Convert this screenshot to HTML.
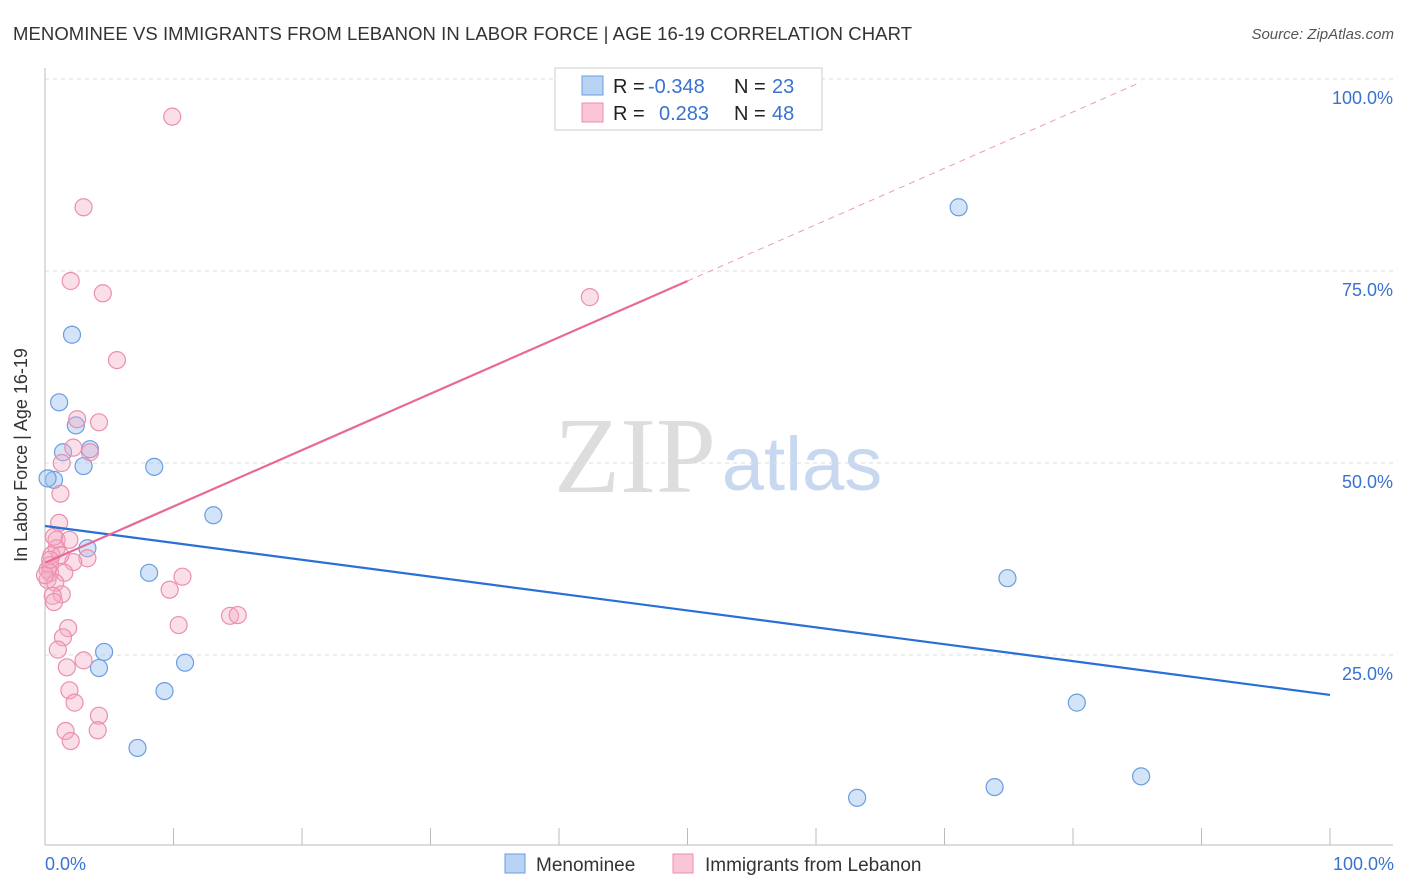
<!DOCTYPE html>
<html><head><meta charset="utf-8"><style>
body{margin:0;background:#fff;font-family:"Liberation Sans",sans-serif;}
svg{display:block}
</style></head><body>
<svg id="chart" width="1406" height="892">
<text x="13" y="40" font-size="18.5" fill="#333" textLength="899">MENOMINEE VS IMMIGRANTS FROM LEBANON IN LABOR FORCE | AGE 16-19 CORRELATION CHART</text>
<text x="1394" y="39" font-size="15" fill="#555" font-style="italic" text-anchor="end">Source: ZipAtlas.com</text>
<text x="635" y="492" font-size="108" fill="#ddd" font-family="Liberation Serif,serif" text-anchor="middle">ZIP</text>
<text x="802" y="490" font-size="76" fill="#c8d8f0" text-anchor="middle">atlas</text>
<g id="grid"></g>
<g id="axes"></g>
<g id="pts"></g>
<g id="lines"></g>
<text x="27" y="455" font-size="18" fill="#333" text-anchor="middle" transform="rotate(-90 27 455)">In Labor Force | Age 16-19</text>
<text x="45" y="870" font-size="18" fill="#3a72d0">0.0%</text>
<text x="1394" y="870" font-size="18" fill="#3a72d0" text-anchor="end">100.0%</text>
<g>
<rect x="555" y="68" width="267" height="62" fill="#fff" stroke="#ccc"/>
<rect x="582" y="76" width="21" height="19" fill="#b9d3f5" stroke="#6a9ee0"/>
<rect x="582" y="103" width="21" height="19" fill="#fac6d6" stroke="#eb8fae"/>
<text x="613" y="93" font-size="20" fill="#222">R = <tspan fill="#3a72d0" x="648">-0.348</tspan></text>
<text x="734" y="93" font-size="20" fill="#222">N = <tspan fill="#3a72d0" x="772">23</tspan></text>
<text x="613" y="120" font-size="20" fill="#222">R = <tspan fill="#3a72d0" x="659">0.283</tspan></text>
<text x="734" y="120" font-size="20" fill="#222">N = <tspan fill="#3a72d0" x="772">48</tspan></text>
</g>
<g>
<rect x="505" y="854" width="20" height="19" fill="#b9d3f5" stroke="#6a9ee0"/>
<text x="536" y="871" font-size="19" fill="#333">Menominee</text>
<rect x="673" y="854" width="20" height="19" fill="#fac6d6" stroke="#eb8fae"/>
<text x="705" y="871" font-size="19" fill="#333">Immigrants from Lebanon</text>
</g>
</svg>
<script>
const yTicks=[25,50,75,100];
const yTickLabels=["25.0%","50.0%","75.0%","100.0%"];
const xTicks=[0,10,20,30,40,50,60,70,80,90,100];
const blueX=[2.1,1.1,2.4,1.4,3.5,3.0,8.5,0.7,13.1,3.3,8.1,4.6,4.2,10.9,9.3,7.2,71.1,74.9,80.3,85.3,63.2,73.9,0.2];
const blueY=[66.7,57.9,54.9,51.4,51.8,49.6,49.5,47.8,43.2,38.9,35.7,25.4,23.3,24.0,20.3,12.9,83.3,35.0,18.8,9.2,6.4,7.8,48.0];
const pinkX=[9.9,3.0,2.0,4.5,42.4,5.6,2.5,4.2,2.2,3.5,1.3,1.2,1.1,0.9,1.9,3.3,2.2,0.9,0.5,0.4,0.2,0.4,1.5,0.2,0.8,1.3,0.6,0.7,10.7,9.7,10.4,14.4,15.0,1.8,1.4,1.0,3.0,1.7,1.9,2.3,1.6,4.2,4.1,2.0,1.2,0.7,0,0.4];
const pinkY=[95.1,83.3,73.7,72.1,71.6,63.4,55.7,55.3,52.0,51.4,50.0,46.0,42.2,40.0,40.0,37.6,37.1,38.9,38.0,36.7,36.1,35.7,35.7,34.8,34.4,32.9,32.7,31.9,35.2,33.5,28.9,30.1,30.2,28.5,27.3,25.7,24.3,23.4,20.4,18.8,15.1,17.1,15.2,13.8,38.0,40.4,35.4,37.4];
const blueTrend=[41.8,19.8];
const pinkTrend=[37.0,73.7,99.6];
const pinkTrendX=[0,50,85.3];
const NS='http://www.w3.org/2000/svg';
const sx=v=>45+v*12.85, sy=v=>847-v*7.68;
function mk(tag,attrs,parent){const e=document.createElementNS(NS,tag);for(const k in attrs)e.setAttribute(k,attrs[k]);document.getElementById(parent).appendChild(e);return e;}
yTicks.forEach((t,i)=>{
 const g=mk('line',{x1:45,x2:1393,y1:sy(t),y2:sy(t),stroke:'#ddd','stroke-dasharray':'4,4'},'grid');
 
 
 const tx=mk('text',{x:1393,y:sy(t)+25,'font-size':18,fill:'#3a72d0','text-anchor':'end'},'grid');
 tx.textContent=yTickLabels[i];
 
 
});
let a=mk('line',{x1:45,x2:45,y1:68,y2:845,stroke:'#bbb'},'axes');


a=mk('line',{x1:45,x2:1393,y1:845,y2:845,stroke:'#bbb'},'axes');


xTicks.forEach(t=>{const l=mk('line',{x1:sx(t),x2:sx(t),y1:828,y2:845,stroke:'#bbb'},'axes');
 
 });
blueX.forEach((x,i)=>{const c=mk('circle',{cx:sx(x),cy:sy(blueY[i]),r:8.5,fill:'rgba(160,196,240,0.45)',stroke:'#6a9ee0','stroke-width':1.2},'pts');
 
 });
pinkX.forEach((x,i)=>{const c=mk('circle',{cx:sx(x),cy:sy(pinkY[i]),r:8.5,fill:'rgba(245,170,195,0.38)',stroke:'#eb8fae','stroke-width':1.2},'pts');
 
 });
let l=mk('line',{x1:sx(0),y1:sy(blueTrend[0]),x2:sx(100),y2:sy(blueTrend[1]),stroke:'#2a6fd6','stroke-width':2.2},'lines');


l=mk('line',{x1:sx(pinkTrendX[0]),y1:sy(pinkTrend[0]),x2:sx(pinkTrendX[1]),y2:sy(pinkTrend[1]),stroke:'#e8689a','stroke-width':2.2},'lines');


l=mk('line',{x1:sx(pinkTrendX[1]),y1:sy(pinkTrend[1]),x2:sx(pinkTrendX[2]),y2:sy(pinkTrend[2]),stroke:'#eb9ab8','stroke-width':1,'stroke-dasharray':'6,5'},'lines');


</script>
</body></html>
